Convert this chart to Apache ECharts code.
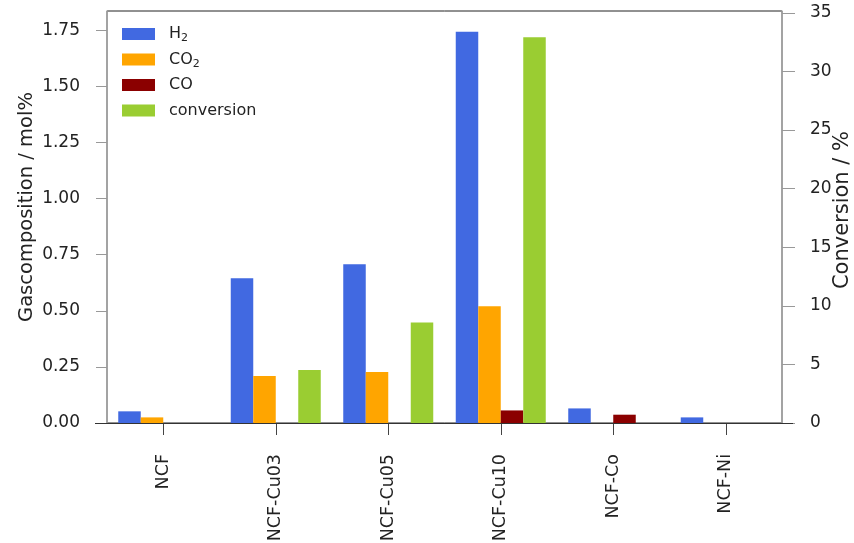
<!DOCTYPE html>
<html>
<head>
<meta charset="utf-8">
<script src="https://cdn.jsdelivr.net/npm/echarts@6/dist/echarts.min.js"></script>
<style>
  html, body { margin: 0; padding: 0; background: #fff; }
  #chart { width: 854px; height: 543px; }
</style>
</head>
<body>
<div id="chart"></div>
<script>
// Catalyst samples
const categories = ['NCF', 'NCF-Cu03', 'NCF-Cu05', 'NCF-Cu10', 'NCF-Co', 'NCF-Ni'];

// Gas composition, mol%
const h2Values  = [0.052, 0.645, 0.707, 1.744, 0.065, 0.025];
const co2Values = [0.025, 0.209, 0.227, 0.520, 0, 0];
const coValues  = [0, 0, 0, 0.056, 0.037, 0];

// Conversion, %
const conversionValues = [0, 4.52, 8.58, 32.9, 0, 0];

// Axis ticks
const leftTicks  = [0, 0.25, 0.5, 0.75, 1.0, 1.25, 1.5, 1.75];
const rightTicks = [0, 5, 10, 15, 20, 25, 30, 35];
const leftMax = 1.836;
const rightMax = 35.15;

const FONT = 'DejaVu Sans';
const TXT = '#222';

const grid = { left: 107, right: 72, top: 11, bottom: 120 };
const W = 854, H = 543;

const chart = echarts.init(document.getElementById('chart'), null, { renderer: 'canvas' });

function legendLabel(name) {
  if (name === 'H2') return 'H{s|2}';
  if (name === 'CO2') return 'CO{s|2}';
  return name;
}

function bar(name, data, color, yIdx) {
  return {
    name: name,
    type: 'bar',
    yAxisIndex: yIdx,
    data: data,
    barWidth: '20%',
    barGap: '0%',
    itemStyle: { color: color },
    emphasis: { disabled: true }
  };
}

chart.setOption({
  animation: false,
  backgroundColor: '#fff',
  grid: Object.assign({
    show: true, borderColor: '#222', borderWidth: 1, backgroundColor: 'transparent',
    containLabel: false, outerBoundsMode: 'none'
  }, grid),
  legend: {
    orient: 'vertical',
    left: 122,
    top: 24,
    padding: 0,
    itemWidth: 33,
    itemHeight: 12,
    itemGap: 5.5,
    icon: 'rect',
    selectedMode: false,
    formatter: legendLabel,
    textStyle: {
      fontFamily: FONT, fontSize: 16, color: TXT, lineHeight: 20,
      padding: [0, 0, 0, 9],
      rich: { s: { fontFamily: FONT, fontSize: 11, color: TXT, padding: [9, 0, 0, 0] } }
    },
    data: ['H2', 'CO2', 'CO', 'conversion']
  },
  xAxis: {
    type: 'category',
    data: categories,
    boundaryGap: true,
    axisLine: { show: true, lineStyle: { color: '#333', width: 1 } },
    axisTick: { show: true, alignWithLabel: true, length: 12, lineStyle: { color: '#444' } },
    axisLabel: { rotate: 90, margin: 31, fontFamily: FONT, fontSize: 17.5, color: TXT },
    splitLine: { show: false }
  },
  yAxis: [
    {
      type: 'value',
      min: 0,
      max: leftMax,
      name: 'Gascomposition / mol%',
      nameLocation: 'middle',
      nameMoveOverlap: false,
      nameGap: 70,
      nameTextStyle: { fontFamily: FONT, fontSize: 19.5, color: TXT, padding: [0, 0, 0, 20] },
      axisLine: { show: true, lineStyle: { color: '#aaa', width: 1.5 } },
      axisTick: { show: true, length: 11, lineStyle: { color: '#999' }, customValues: leftTicks },
      axisLabel: {
        margin: 27, fontFamily: FONT, fontSize: 17, color: TXT,
        customValues: leftTicks,
        formatter: v => v.toFixed(2)
      },
      splitLine: { show: false }
    },
    {
      type: 'value',
      min: 0,
      max: rightMax,
      position: 'right',
      name: 'Conversion / %',
      nameLocation: 'middle',
      nameMoveOverlap: false,
      nameGap: 50,
      nameTextStyle: { fontFamily: FONT, fontSize: 21, color: TXT, padding: [0, 0, 0, 14] },
      axisLine: { show: true, lineStyle: { color: '#aaa', width: 1.5 } },
      axisTick: { show: true, length: 13, lineStyle: { color: '#999' }, customValues: rightTicks },
      axisLabel: {
        margin: 28, fontFamily: FONT, fontSize: 17, color: TXT,
        customValues: rightTicks
      },
      splitLine: { show: false }
    }
  ],
  graphic: [
    {
      // baseline extends slightly past both side spines
      type: 'line',
      silent: true,
      z: 100,
      shape: { x1: grid.left - 12, y1: H - grid.bottom + 0.5, x2: W - grid.right + 11, y2: H - grid.bottom + 0.5 },
      style: { stroke: '#333', lineWidth: 1 }
    }
  ],
  series: [
    bar('H2', h2Values, '#4169E1', 0),
    bar('CO2', co2Values, '#FFA500', 0),
    bar('CO', coValues, '#8B0000', 0),
    bar('conversion', conversionValues, '#9ACD32', 1)
  ]
});
</script>
</body>
</html>
